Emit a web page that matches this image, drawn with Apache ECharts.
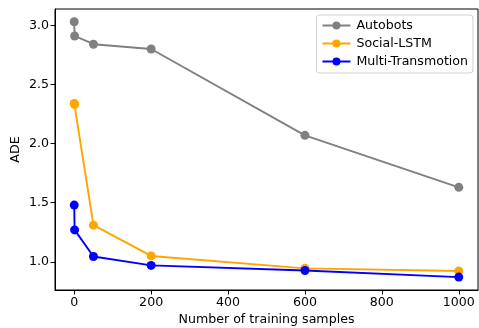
<!DOCTYPE html>
<html><head><meta charset="utf-8">
<script src="https://cdn.jsdelivr.net/npm/echarts@6/dist/echarts.min.js"></script>
<style>html,body{margin:0;padding:0;background:#fff}#c{width:479px;height:328px}</style>
</head><body><div id="c"></div>
<script>
const seriesNames = ['Autobots', 'Social-LSTM', 'Multi-Transmotion'];
const autobotsX = [0, 1, 50, 200, 600, 1000];
const autobotsY = [3.03, 2.91, 2.84, 2.80, 2.07, 1.63];
const socialX = [0, 1, 50, 200, 600, 1000];
const socialY = [2.34, 2.33, 1.31, 1.05, 0.945, 0.923];
const multiX = [0, 1, 50, 200, 600, 1000];
const multiY = [1.48, 1.27, 1.045, 0.97, 0.927, 0.871];
const xTicks = [0, 200, 400, 600, 800, 1000];
const yTicks = [1.0, 1.5, 2.0, 2.5, 3.0];
const colors = ['#808080', '#FFA500', '#0000FF'];

const font = 'DejaVu Sans';
const fs = 12.6;
function pairs(xs, ys){ return xs.map((x,i)=>[x, ys[i]]); }
const data = [pairs(autobotsX, autobotsY), pairs(socialX, socialY), pairs(multiX, multiY)];

const chart = echarts.init(document.getElementById('c'), null, {renderer:'canvas'});
chart.setOption({
  animation: false,
  backgroundColor: '#fff',
  textStyle: {fontFamily: font},
  grid: {left: 55, right: 1, top: 9, bottom: 38, show: true, borderColor: '#000', borderWidth: 1,
    containLabel: false, outerBoundsMode: 'none'},
  legend: {
    show: true, right: 6, top: 15, orient: 'vertical',
    data: seriesNames,
    itemWidth: 28, itemHeight: 10, itemGap: 5,
    padding: [4, 5, 5, 5],
    borderColor: '#d0d0d0', borderWidth: 1, borderRadius: 3,
    textStyle: {fontFamily: font, fontSize: fs, color: '#000', padding: [0,0,0,1]}
  },
  xAxis: {
    type: 'value', min: -50, max: 1050, interval: 200,
    axisLine: {show: true, onZero: false, lineStyle: {color: '#000', width: 1}},
    axisTick: {show: true, length: 4.5, lineStyle: {color: '#000'},
      customValues: xTicks},
    axisLabel: {fontFamily: font, fontSize: fs, color: '#000', margin: 6,
      customValues: xTicks, formatter: v => String(v)},
    splitLine: {show: false},
    name: 'Number of training samples', nameLocation: 'middle', nameGap: 23,
    nameMoveOverlap: false,
    nameTextStyle: {fontFamily: font, fontSize: fs, color: '#000'}
  },
  yAxis: {
    type: 'value', min: 0.762, max: 3.138,
    axisLine: {show: true, onZero: false, lineStyle: {color: '#000', width: 1}},
    axisTick: {show: true, length: 4.5, lineStyle: {color: '#000'}, customValues: yTicks},
    axisLabel: {fontFamily: font, fontSize: fs, color: '#000', margin: 6,
      customValues: yTicks, formatter: v => v.toFixed(1)},
    splitLine: {show: false},
    name: 'ADE', nameLocation: 'middle', nameGap: 33, nameRotate: 90,
    nameMoveOverlap: false,
    nameTextStyle: {fontFamily: font, fontSize: fs, color: '#000'}
  },
  series: seriesNames.map((n, i) => ({
    name: n, type: 'line', data: data[i],
    symbol: 'circle', symbolSize: 9,
    showAllSymbol: true,
    lineStyle: {color: colors[i], width: 1.9},
    itemStyle: {color: colors[i]},
    z: 2 + i
  }))
});
</script></body></html>
